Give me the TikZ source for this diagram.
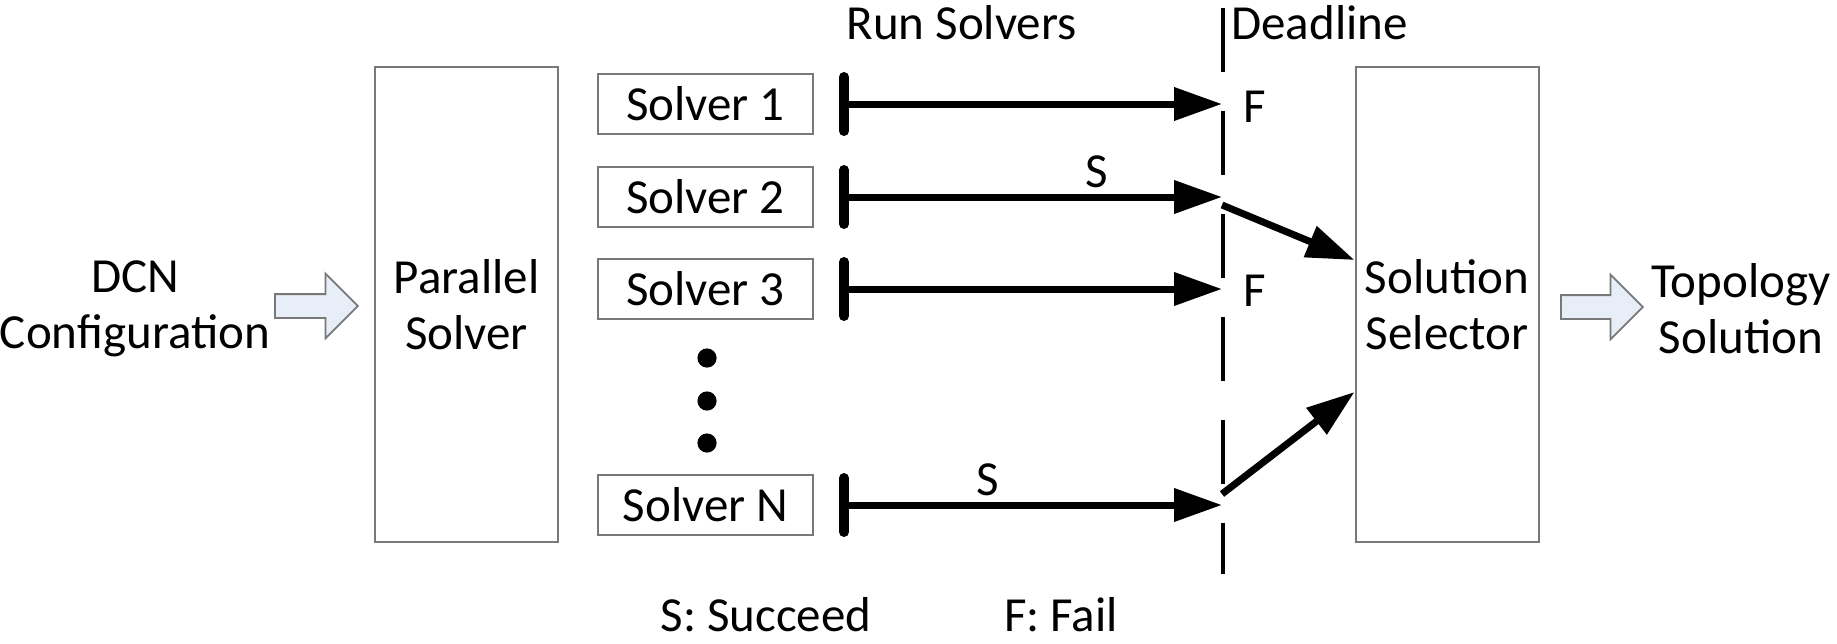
\documentclass[tikz,border=0pt]{standalone}
\usepackage{fontspec}
\setmainfont{Carlito}
\usetikzlibrary{arrows.meta, shapes.arrows}

\definecolor{boxgray}{RGB}{120,120,120}
\definecolor{arrowfill}{RGB}{232,238,247}

\tikzset{
    box/.style={draw=boxgray, line width=1pt},
    bigbox/.style={box, minimum width=91.5pt, minimum height=237.5pt, align=center},
    solverbox/.style={box, minimum width=107.5pt, minimum height=30pt, inner sep=0pt},
    hollow/.style={single arrow, draw=boxgray, fill=arrowfill, line width=0.9pt,
        inner xsep=0pt, inner ysep=5.5pt, single arrow head extend=10.25pt, anchor=tail},
    run/.style={line width=3.5pt, -{Triangle[length=24pt,width=16pt]}},
    startbar/.style={line width=5pt, line cap=round},
    deadline/.style={line width=1.8pt, dash pattern=on 32pt off 19.5pt},
}

\begin{document}
\begin{tikzpicture}[x=0.5pt, y=-0.5pt, font=\fontsize{24.5}{28}\selectfont]
    \useasboundingbox (0,0) rectangle (1837,643);

    % input, solver stage and selector
    \node[align=center] (dcn) at (135,309) {DCN\\Configuration};
    \node[hollow, minimum height=41.5pt] (in) at (274,306) {};
    \node[bigbox] (par) at (466.5,304.5) {Parallel\\Solver};
    \node[bigbox] (sel) at (1447,304.5) {Solution\\Selector};
    \node[hollow, minimum height=41pt] (out) at (1560,307) {};
    \node[align=center] (topo) at (1741,309) {Topology\\Solution};

    % solvers, start bars and run arrows
    \foreach \name/\y in {1/104, 2/197, 3/289, N/505} {
        \node[solverbox] (s\name) at (705.5,\y) {Solver \name};
        \coordinate (b\name) at (844,\y);
        \coordinate (d\name) at (1222,\y);
        \draw[startbar] ([yshift=13.5pt]b\name) -- ([yshift=-13.5pt]b\name);
        \draw[run] (b\name) -- (d\name);
    }
    \foreach \y in {358, 401, 443}
        \fill (707,\y) circle (4.8pt);

    % deadline
    \draw[deadline] (1223,8) -- (1223,574);
    \node[anchor=west, inner sep=0pt] (runlbl) at (846,23) {Run Solvers};
    \node[anchor=west, inner sep=0pt] (dllbl) at (1231,23) {Deadline};

    % results at the deadline
    \node (f1) at (1255,107) {F};
    \node (f3) at (1255,291) {F};
    \node (ok2) at (1097,172) {S};
    \node (okN) at (988,480) {S};
    \coordinate (g2) at (1222,205);
    \coordinate (gN) at (1222,494);
    \draw[run] (g2) -- ([yshift=22.25pt]sel.west);
    \draw[run] (gN) -- ([yshift=-43.75pt]sel.west);

    % legend
    \node[inner sep=0pt] (legS) at (766,615) {S: Succeed};
    \node[inner sep=0pt] (legF) at (1061,615) {F: Fail};
\end{tikzpicture}
\end{document}
